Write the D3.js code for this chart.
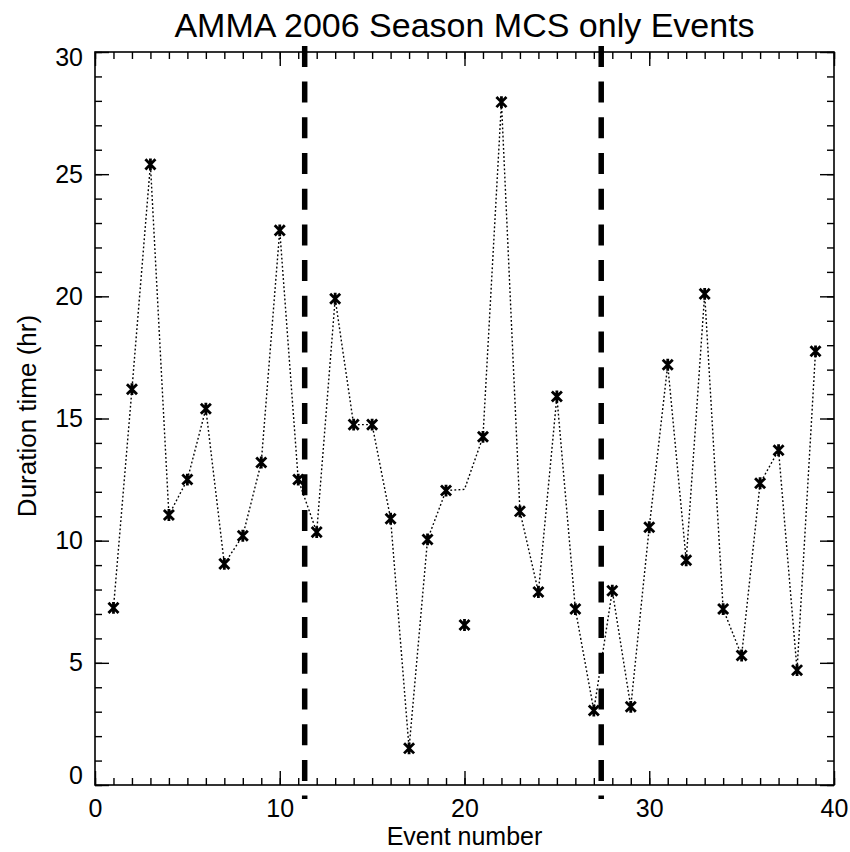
<!DOCTYPE html>
<html>
<head>
<meta charset="utf-8">
<script src="https://cdn.jsdelivr.net/npm/d3@7"></script>
<style>
  body { margin: 0; background: #fff; }
  text { font-family: "Liberation Sans", Arial, sans-serif; fill: #000; }
</style>
</head>
<body>
<div id="chart"></div>
<script>
// data
const eventNumber = [1, 2, 3, 4, 5, 6, 7, 8, 9, 10, 11, 12, 13, 14, 15, 16, 17, 18, 19, 20,
  21, 22, 23, 24, 25, 26, 27, 28, 29, 30, 31, 32, 33, 34, 35, 36, 37, 38, 39]
// duration (hr) at each asterisk
const durationMarks = [7.25, 16.2, 25.4, 11.05, 12.5, 15.4, 9.05, 10.2, 13.2, 22.7,
  12.5, 10.35, 19.9, 14.75, 14.75, 10.9, 1.5, 10.05, 12.05, 6.55,
  14.25, 27.95, 11.2, 7.9, 15.9, 7.2, 3.05, 7.95, 3.2, 10.55,
  17.2, 9.2, 20.1, 7.2, 5.3, 12.35, 13.7, 4.7, 17.75]
// the dotted line does not go through event 20's asterisk
const durationLine = [7.25, 16.2, 25.4, 11.05, 12.5, 15.4, 9.05, 10.2, 13.2, 22.7,
  12.5, 10.35, 19.9, 14.75, 14.75, 10.9, 1.5, 10.05, 12.05, 12.1,
  14.25, 27.95, 11.2, 7.9, 15.9, 7.2, 3.05, 7.95, 3.2, 10.55,
  17.2, 9.2, 20.1, 7.2, 5.3, 12.35, 13.7, 4.7, 17.75]
// dashed separators between the periods
const dividers = [11.35, 27.4]
const xTicks = [0, 10, 20, 30, 40]
const yTicks = [0, 5, 10, 15, 20, 25, 30]

function draw() {
  const marks = eventNumber.map((e, i) => ({ x: e, y: durationMarks[i] }))
  const linePts = eventNumber.map((e, i) => ({ x: e, y: durationLine[i] }))
  const xAccessor = d => d.x
  const yAccessor = d => d.y

  let dimensions = {
    width: 850,
    height: 852,
    margin: { top: 52, bottom: 67, left: 95, right: 16 }
  }
  dimensions.ctrWidth = dimensions.width - dimensions.margin.left - dimensions.margin.right
  dimensions.ctrHeight = dimensions.height - dimensions.margin.top - dimensions.margin.bottom

  const svg = d3.select('#chart')
    .append('svg')
    .attr('width', dimensions.width)
    .attr('height', dimensions.height)

  const ctr = svg.append('g')
    .attr('transform', `translate(${dimensions.margin.left}, ${dimensions.margin.top})`)

  // scales
  const xScale = d3.scaleLinear()
    .domain([0, 40])
    .range([0, dimensions.ctrWidth])
  const yScale = d3.scaleLinear()
    .domain([0, 30])
    .range([dimensions.ctrHeight, 0])

  const xMinor = d3.range(0, 41, 1)
  const yMinor = d3.range(0, 31, 1)

  // axes, ticks pointing inward on all four sides
  const addAxis = (axis, transform) => {
    const g = ctr.append('g').attr('transform', transform).call(axis)
    g.select('.domain').remove()
    g.selectAll('.tick line').attr('stroke', '#000').attr('stroke-width', 1.4)
    return g
  }
  const noLabel = () => ''

  addAxis(d3.axisBottom(xScale).tickValues(xMinor).tickSize(-7).tickFormat(noLabel),
    `translate(0, ${dimensions.ctrHeight})`)
  const xAxisGroup = addAxis(d3.axisBottom(xScale).tickValues(xTicks).tickSize(-14).tickPadding(14),
    `translate(0, ${dimensions.ctrHeight})`)
  addAxis(d3.axisTop(xScale).tickValues(xMinor).tickSize(-7).tickFormat(noLabel), 'translate(0, 0)')
  addAxis(d3.axisTop(xScale).tickValues(xTicks).tickSize(-14).tickFormat(noLabel), 'translate(0, 0)')

  addAxis(d3.axisLeft(yScale).tickValues(yMinor).tickSize(-7).tickFormat(noLabel), 'translate(0, 0)')
  const yAxisGroup = addAxis(d3.axisLeft(yScale).tickValues(yTicks).tickSize(-14).tickPadding(12),
    'translate(0, 0)')
  addAxis(d3.axisRight(yScale).tickValues(yMinor).tickSize(-7).tickFormat(noLabel),
    `translate(${dimensions.ctrWidth}, 0)`)
  addAxis(d3.axisRight(yScale).tickValues(yTicks).tickSize(-14).tickFormat(noLabel),
    `translate(${dimensions.ctrWidth}, 0)`)

  xAxisGroup.selectAll('.tick text').style('font-size', '25px').attr('fill', '#000')
  // end labels get pushed back inside the frame
  yAxisGroup.selectAll('.tick text')
    .style('font-size', '25px')
    .attr('fill', '#000')
    .attr('y', d => d === 0 ? -10 : d === 30 ? 5.5 : 0)

  // frame
  ctr.append('rect')
    .attr('width', dimensions.ctrWidth)
    .attr('height', dimensions.ctrHeight)
    .attr('fill', 'none')
    .attr('stroke', '#000')
    .attr('stroke-width', 1.6)

  // dashed dividers, they poke out a little past the frame
  ctr.selectAll('.divider')
    .data(dividers)
    .join('line')
    .attr('class', 'divider')
    .attr('x1', d => xScale(d))
    .attr('x2', d => xScale(d))
    .attr('y1', yScale(30.25))
    .attr('y2', yScale(-0.57))
    .attr('stroke', '#000')
    .attr('stroke-width', 5.5)
    .attr('stroke-dasharray', '21,14.7')

  // dotted connecting line
  const lineGen = d3.line()
    .x(d => xScale(xAccessor(d)))
    .y(d => yScale(yAccessor(d)))
  ctr.append('path')
    .datum(linePts)
    .attr('d', lineGen)
    .attr('fill', 'none')
    .attr('stroke', '#000')
    .attr('stroke-width', 1.4)
    .attr('stroke-dasharray', '1.8,2.3')

  // asterisk markers (vertical bar plus an x)
  const asterisk = {
    draw(context, size) {
      const r = Math.sqrt(size) / 2
      const d = r * 0.85
      context.moveTo(0, -r)
      context.lineTo(0, r)
      context.moveTo(-d, -d)
      context.lineTo(d, d)
      context.moveTo(-d, d)
      context.lineTo(d, -d)
    }
  }
  ctr.selectAll('.mark')
    .data(marks)
    .join('path')
    .attr('class', 'mark')
    .attr('transform', d => `translate(${xScale(xAccessor(d))}, ${yScale(yAccessor(d))})`)
    .attr('d', d3.symbol().type(asterisk).size(140))
    .attr('fill', 'none')
    .attr('stroke', '#000')
    .attr('stroke-width', 2.8)

  // titles
  svg.append('text')
    .attr('x', dimensions.margin.left + dimensions.ctrWidth / 2)
    .attr('y', 37)
    .attr('text-anchor', 'middle')
    .style('font-size', '34px')
    .text('AMMA 2006 Season MCS only Events')

  svg.append('text')
    .attr('x', dimensions.margin.left + dimensions.ctrWidth / 2)
    .attr('y', 845)
    .attr('text-anchor', 'middle')
    .style('font-size', '25px')
    .text('Event number')

  svg.append('text')
    .attr('transform', 'translate(36, 416) rotate(-90)')
    .attr('text-anchor', 'middle')
    .style('font-size', '26px')
    .text('Duration time (hr)')
}

draw()
</script>
</body>
</html>
